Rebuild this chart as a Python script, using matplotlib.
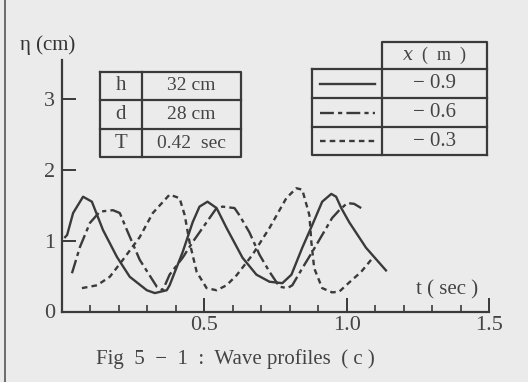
import matplotlib
matplotlib.use("Agg")
import matplotlib.pyplot as plt
import numpy as np

plt.rcParams['font.family'] = ['Liberation Serif', 'DejaVu Serif']
plt.rcParams['lines.scale_dashes'] = False

# --- data ---
t_09 = [0.011, 0.018, 0.039, 0.074, 0.105, 0.144, 0.193, 0.238, 0.298, 0.326, 0.368,
        0.378, 0.424, 0.459, 0.483, 0.511, 0.543, 0.578, 0.634, 0.683, 0.729, 0.774,
        0.806, 0.844, 0.879, 0.914, 0.946, 0.963, 0.981, 1.009, 1.068, 1.138]
eta_09 = [1.05, 1.08, 1.39, 1.62, 1.55, 1.15, 0.77, 0.49, 0.30, 0.26, 0.30,
          0.37, 0.84, 1.26, 1.48, 1.55, 1.46, 1.18, 0.76, 0.52, 0.42, 0.40,
          0.52, 0.90, 1.22, 1.55, 1.66, 1.62, 1.46, 1.26, 0.90, 0.58]

t_06 = [0.035, 0.063, 0.098, 0.133, 0.179, 0.203, 0.228, 0.273, 0.333, 0.354, 0.378,
        0.424, 0.459, 0.508, 0.543, 0.564, 0.606, 0.623, 0.658, 0.694, 0.729, 0.764,
        0.792, 0.809, 0.844, 0.879, 0.914, 0.949, 0.974, 1.002, 1.026, 1.051]
eta_06 = [0.54, 0.91, 1.25, 1.41, 1.43, 1.39, 1.15, 0.73, 0.35, 0.30, 0.52,
          0.76, 0.98, 1.26, 1.46, 1.48, 1.46, 1.36, 1.12, 0.80, 0.56, 0.35,
          0.33, 0.37, 0.61, 0.84, 1.08, 1.32, 1.43, 1.53, 1.52, 1.46]

t_03 = [0.070, 0.123, 0.168, 0.214, 0.273, 0.319, 0.378, 0.413, 0.431, 0.448, 0.473,
        0.508, 0.543, 0.578, 0.613, 0.669, 0.729, 0.788, 0.823, 0.844, 0.869, 0.876,
        0.886, 0.914, 0.949, 0.974, 1.009, 1.051, 1.086]
eta_03 = [0.33, 0.37, 0.49, 0.73, 1.05, 1.39, 1.65, 1.60, 1.36, 0.98, 0.56,
          0.33, 0.30, 0.37, 0.51, 0.80, 1.18, 1.60, 1.74, 1.72, 1.36, 0.98,
          0.61, 0.33, 0.27, 0.28, 0.41, 0.56, 0.73]

param_names = ['h', 'd', 'T']
param_values = ['32 cm', '28 cm', '0.42  sec']
x_labels = ['\u2212 0.9', '\u2212 0.6', '\u2212 0.3']

# --- styles ---
ink = '#3a3a3a'
paper = '#ebebeb'
styles = [
    dict(linestyle='-'),
    dict(linestyle=(0, (10, 3, 3, 3))),
    dict(linestyle=(0, (4, 3))),
]

W, H = 528, 382
fig = plt.figure(figsize=(W / 100, H / 100), dpi=100, facecolor=paper)

# main axes, placed by pixel
x0, x1 = 62, 489
y_bot, y_top = 311.5, 60
ax = fig.add_axes([x0 / W, 1 - y_bot / H, (x1 - x0) / W, (y_bot - y_top) / H])
ax.set_facecolor('none')

for t, e, st in zip([t_09, t_06, t_03], [eta_09, eta_06, eta_03], styles):
    ax.plot(t, e, color=ink, lw=1.7, **st)

ax.set_xlim(0, 1.5)
ax.set_ylim(0, 3.55)
for s in ['top', 'right']:
    ax.spines[s].set_visible(False)
for s in ['left', 'bottom']:
    ax.spines[s].set_color(ink)
    ax.spines[s].set_linewidth(1.6)

ax.set_xticks([0.5, 1.0, 1.5])
ax.set_xticklabels(['0.5', '1.0', '1.5'])
ax.set_xticks([v / 10 for v in range(1, 15) if v % 5 != 0], minor=True)
ax.set_yticks([0, 1, 2, 3])
ax.tick_params(axis='both', which='major', direction='in', length=10, width=1.4,
               color=ink, labelcolor='#444', labelsize=16)
ax.tick_params(axis='x', which='minor', direction='in', length=5, width=1.2, color=ink)
ax.tick_params(axis='y', pad=5)
ax.tick_params(axis='x', pad=3)

# overlay in pixel coordinates for the tables and labels
ov = fig.add_axes([0, 0, 1, 1])
ov.set_xlim(0, W)
ov.set_ylim(H, 0)
ov.axis('off')
ov.patch.set_alpha(0)

def box_lines(xs, ys):
    ov.plot(xs, ys, color=ink, lw=1.6, solid_capstyle='projecting')

# table of parameters
tl, tm, tr = 100, 142, 241
rows = [72, 100, 129, 157]
box_lines([tl, tr, tr, tl, tl], [rows[0], rows[0], rows[-1], rows[-1], rows[0]])
box_lines([tm, tm], [rows[0], rows[-1]])
for r in rows[1:-1]:
    box_lines([tl, tr], [r, r])
for i, (n, v) in enumerate(zip(param_names, param_values)):
    yc = (rows[i] + rows[i + 1]) / 2
    ov.text((tl + tm) / 2, yc, n, ha='center', va='center', fontsize=15, color='#444')
    ov.text((tm + tr) / 2, yc, v, ha='center', va='center', fontsize=14, color='#444')

# legend table
ll, lm, lr = 312, 382, 487
lrows = [69, 98, 127, 155]
box_lines([lm, lm, lr, lr], [lrows[0], 42, 42, lrows[-1]])
box_lines([ll, lr], [lrows[0], lrows[0]])
box_lines([ll, ll, lr], [lrows[0], lrows[-1], lrows[-1]])
box_lines([lm, lm], [lrows[0], lrows[-1]])
for r in lrows[1:-1]:
    box_lines([ll, lr], [r, r])
ov.text((lm + lr) / 2, 55.5, '$x$  (  m  )', ha='center', va='center', fontsize=13,
        color='#444', math_fontfamily='dejavuserif')
for i, (lab, st) in enumerate(zip(x_labels, styles)):
    yc = (lrows[i] + lrows[i + 1]) / 2
    ov.plot([320, 375], [yc, yc], color=ink, lw=1.7, **st)
    ov.text((lm + lr) / 2, yc, lab, ha='center', va='center', fontsize=15, color='#444')

# axis labels and caption
ov.text(20, 45, '\u03b7 (cm)', ha='left', va='center', fontsize=15, color='#333')
ov.text(447, 290, 't ( sec )', ha='center', va='center', fontsize=15, color='#444')
ov.text(235, 359, 'Fig  5  \u2212  1  :  Wave profiles  ( c )', ha='center', va='center',
        fontsize=15, color='#444')

# page edge of the scan
ov.plot([5, 5], [0, H], color='#555', lw=1.2)

fig.savefig('out.png', dpi=100, facecolor=paper)
